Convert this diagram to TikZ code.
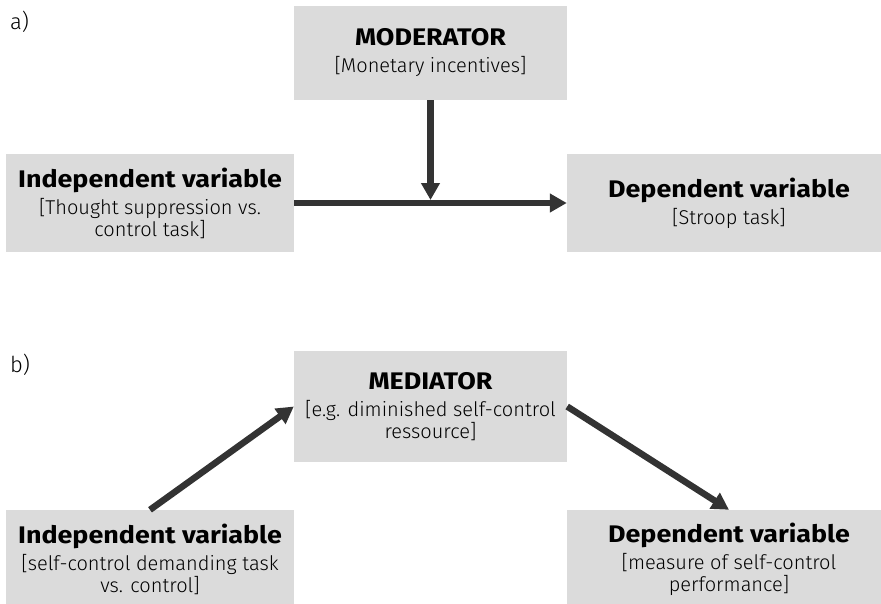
\documentclass[tikz,border=0pt]{standalone}
\usepackage{fontspec}
\setmainfont{Fira Sans}
\newfontfamily\lightfont{Fira Sans Light}
\newfontfamily\headfam{Fira Sans}[FakeStretch=1.12]
\usetikzlibrary{arrows.meta}
\newcommand{\headfont}{\headfam\fontsize{24}{26}\selectfont\bfseries}
\newcommand{\notefont}{\lightfont\fontsize{20}{22}\selectfont}
\begin{document}
\begin{tikzpicture}[x=1pt,y=-1pt]
    \tikzstyle{varbox} = [fill=gray!28, inner sep=0pt, align=center, font=\notefont, minimum width=288pt, minimum height=98pt]
    \tikzstyle{effect} = [draw=black!80, line width=6.5pt, -{Triangle[length=17pt,width=18pt]}]
    \tikzstyle{panel} = [anchor=west, inner sep=0pt, font=\lightfont\fontsize{22}{24}\selectfont]

    \useasboundingbox (0,0) rectangle (881,603);

    % a) moderation
    \node[panel] (labA) at (10,22) {a)};
    \node[varbox, minimum width=273pt, minimum height=94pt] (modA) at (430.5,53)
      {{\headfont MODERATOR}\\[5pt] [Monetary incentives]};
    \node[varbox] (indepA) at (150,203)
      {{\headfont Independent variable}\\[5pt] [Thought suppression vs.\\ control task]};
    \node[varbox, minimum width=324pt] (depA) at (729,203)
      {{\headfont Dependent variable}\\[5pt] [Stroop task]};
    \coordinate (junctA) at (modA.south |- indepA.east);
    \draw[effect] (indepA.east) -- (depA.west);
    \draw[effect, shorten >=3pt] (modA.south) -- (junctA);

    % b) mediation
    \node[panel] (labB) at (10,365) {b)};
    \node[varbox, minimum width=273pt, minimum height=111pt] (medB) at (430.5,406.5)
      {{\headfont MEDIATOR}\\[5pt] [e.g. diminished self-control\\ ressource]};
    \node[varbox] (indepB) at (150,559)
      {{\headfont Independent variable}\\[5pt] [self-control demanding task\\ vs. control]};
    \node[varbox, minimum width=324pt] (depB) at (729,559)
      {{\headfont Dependent variable}\\[5pt] [measure of self-control\\ performance]};
    \draw[effect] (indepB.north) -- (medB.west);
    \draw[effect] (medB.east) -- (depB.north);
\end{tikzpicture}
\end{document}
